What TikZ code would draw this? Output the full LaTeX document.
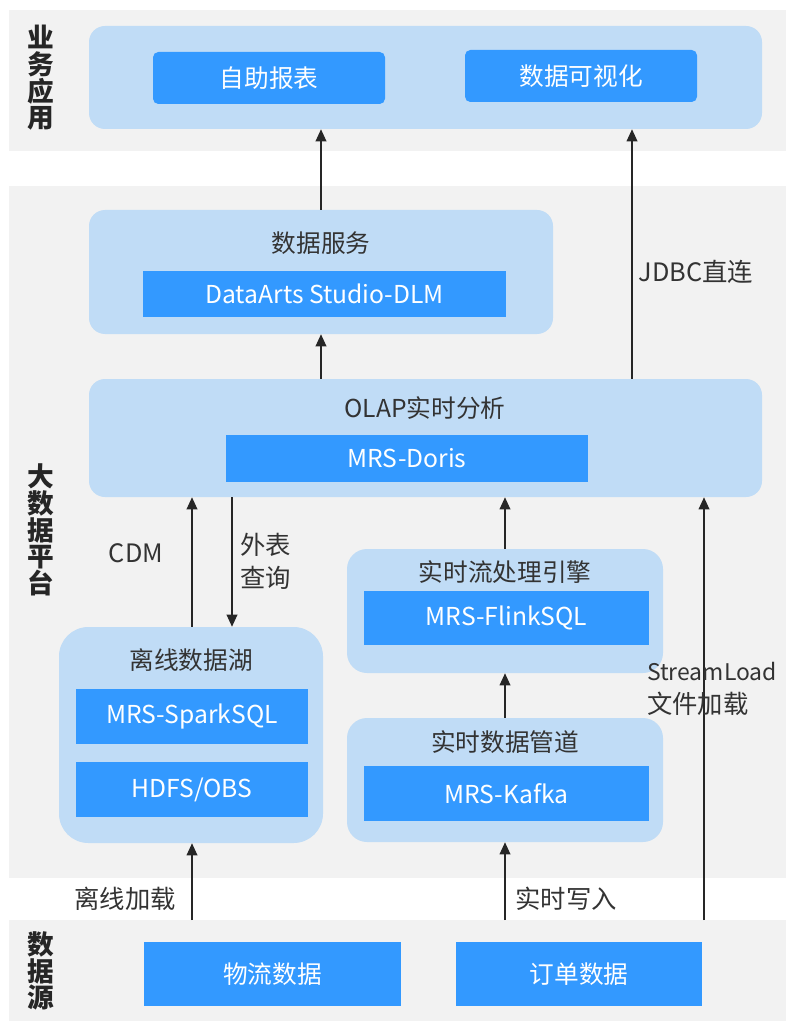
\documentclass[tikz,border=0pt]{standalone}
\usepackage{fontspec}
\setmainfont{Noto Sans CJK SC}
\usetikzlibrary{fit,arrows.meta}
\definecolor{bandgray}{HTML}{F2F2F2}
\definecolor{lightblue}{HTML}{C0DCF6}
\definecolor{boxblue}{HTML}{3399FF}
\definecolor{txt}{HTML}{333333}
\definecolor{arrowc}{HTML}{262626}
\tikzset{
  lbox/.style={fill=lightblue, inner sep=0pt, rounded corners=12pt},
  bbox/.style={fill=boxblue, inner sep=0pt, text=white, font=\fontsize{18.5pt}{22pt}\selectfont},
  ttl/.style={text=txt, inner sep=0pt, font=\fontsize{18.5pt}{22pt}\selectfont},
  lbl/.style={text=txt, inner sep=0pt, align=left, font=\fontsize{19pt}{25pt}\selectfont},
  side/.style={text=arrowc, inner sep=0pt, align=center, font=\fontsize{20pt}{20pt}\selectfont\bfseries},
  arr/.style={draw=arrowc, line width=1pt, -{Triangle[width=8pt,length=9pt]}}
}
\begin{document}
\begin{tikzpicture}[x=0.75pt,y=-0.75pt]
\useasboundingbox (0,0) rectangle (787,1023);
% bands
\fill[bandgray] (9,10) rectangle (786,151);
\fill[bandgray] (9,186) rectangle (786,878);
\fill[bandgray] (9,920) rectangle (786,1021);
% side labels
\node[side] (s1) at (41,78) {业\\务\\应\\用};
\node[side] (s2) at (41,530) {大\\数\\据\\平\\台};
\node[side] (s3) at (41,971) {数\\据\\源};
% application layer
\node[lbox, fit={(89,26) (762,129)}] (app) {};
\node[bbox, rounded corners=4pt, fit={(153,52) (385,104)}] (rep) {};
\node[bbox] at (rep.center) (reptxt) {自助报表};
\node[bbox, rounded corners=4pt, fit={(465,50) (697,102)}] (viz) {};
\node[bbox] at (viz.center) (viztxt) {数据可视化};
% data service
\node[lbox, fit={(89,210) (553,334)}] (svc) {};
\node[ttl] (svct) at (321,243) {数据服务};
\node[bbox, fit={(143,271) (506,317)}] (dlm) {};
\node[bbox] at (dlm.center) (dlmt) {DataArts Studio-DLM};
% OLAP
\node[lbox, fit={(89,379) (762,497)}] (olap) {};
\node[ttl] (olapt) at (425,408) {OLAP实时分析};
\node[bbox, fit={(226,435) (588,482)}] (doris) {};
\node[bbox] at (doris.center) (dorist) {MRS-Doris};
% offline lake
\node[lbox, rounded corners=22pt, fit={(59,627) (323,843)}] (lake) {};
\node[ttl] (laket) at (191,660) {离线数据湖};
\node[bbox, fit={(76,689) (308,744)}] (spark) {};
\node[bbox] at (spark.center) (sparkt) {MRS-SparkSQL};
\node[bbox, fit={(76,762) (308,817)}] (hdfs) {};
\node[bbox] at (hdfs.center) (hdfst) {HDFS/OBS};
% stream engine
\node[lbox, rounded corners=15pt, fit={(347,549) (663,673)}] (stream) {};
\node[ttl] (streamt) at (505,572) {实时流处理引擎};
\node[bbox, fit={(364,591) (649,645)}] (flink) {};
\node[bbox] at (flink.center) (flinkt) {MRS-FlinkSQL};
% pipeline
\node[lbox, rounded corners=15pt, fit={(347,718) (663,842)}] (pipe) {};
\node[ttl] (pipet) at (505,742) {实时数据管道};
\node[bbox, fit={(364,766) (649,821)}] (kafka) {};
\node[bbox] at (kafka.center) (kafkat) {MRS-Kafka};
% sources
\node[bbox, fit={(144,942) (401,1006)}] (src1) {};
\node[bbox] at (src1.center) (src1t) {物流数据};
\node[bbox, fit={(456,942) (702,1006)}] (src2) {};
\node[bbox] at (src2.center) (src2t) {订单数据};
% coordinates
\coordinate (jx) at (632,0);
\coordinate (cx) at (192,0);
\coordinate (qx) at (232,0);
\coordinate (rx) at (505,0);
\coordinate (off) at (192,920);
\coordinate (rt) at (505,920);
\coordinate (sl) at (704,920);
% arrows
\draw[arr] (svc.north) -- (app.south -| svc.north);
\draw[arr] (olap.north -| svc.north) -- (svc.south);
\draw[arr] (olap.north -| jx) -- (app.south -| jx);
\draw[arr] (lake.north -| cx) -- (olap.south -| cx);
\draw[arr] (olap.south -| qx) -- (lake.north -| qx);
\draw[arr] (stream.north -| rx) -- (olap.south -| rx);
\draw[arr] (pipe.north -| rx) -- (stream.south -| rx);
\draw[arr] (off) -- (lake.south -| off);
\draw[arr] (rt) -- (pipe.south -| rt);
\draw[arr] (sl) -- (olap.south -| sl);
% labels
\node[lbl] (jdbc) at (696,272) {JDBC直连};
\node[lbl] (cdm) at (136,553) {CDM};
\node[lbl, anchor=west] (wb) at (240,561) {外表\\查询};
\node[lbl, anchor=west] (slt) at (647,689) {{\fontsize{17.2pt}{25pt}\selectfont StreamLoad}\\文件加载};
\node[lbl] (offt) at (125,899) {离线加载};
\node[lbl] (rtt) at (566,899) {实时写入};
\end{tikzpicture}
\end{document}
